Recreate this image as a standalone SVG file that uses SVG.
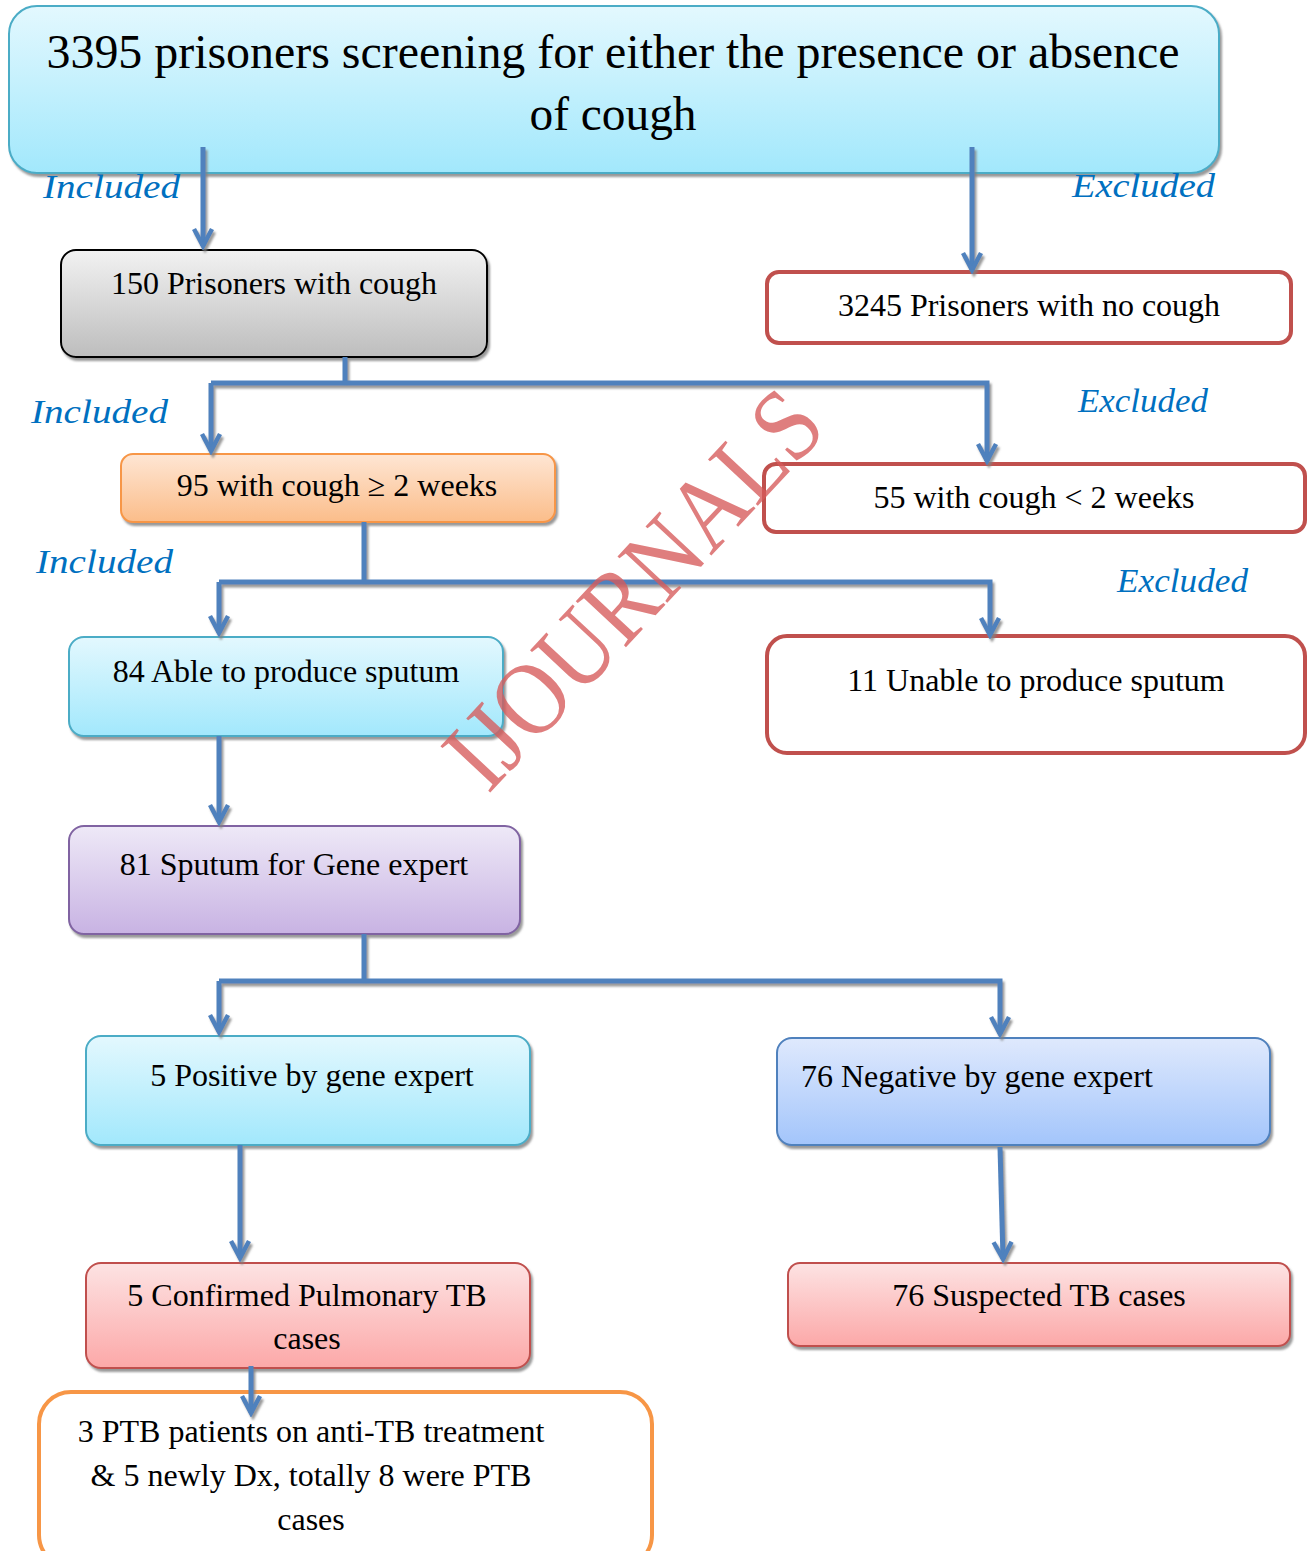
<svg xmlns="http://www.w3.org/2000/svg" width="1309" height="1551" viewBox="0 0 1309 1551">
<defs>
<linearGradient id="gCyan" x1="0" y1="0" x2="0" y2="1"><stop offset="0" stop-color="#e3f8fe"/><stop offset="1" stop-color="#a2e8fc"/></linearGradient>
<linearGradient id="gGray" x1="0" y1="0" x2="0" y2="1"><stop offset="0" stop-color="#f2f2f2"/><stop offset="1" stop-color="#bdbdbd"/></linearGradient>
<linearGradient id="gOrange" x1="0" y1="0" x2="0" y2="1"><stop offset="0" stop-color="#fee6d4"/><stop offset="1" stop-color="#fbbd8a"/></linearGradient>
<linearGradient id="gPurple" x1="0" y1="0" x2="0" y2="1"><stop offset="0" stop-color="#eee9f7"/><stop offset="1" stop-color="#c8b3e3"/></linearGradient>
<linearGradient id="gBlue" x1="0" y1="0" x2="0" y2="1"><stop offset="0" stop-color="#dfe9fd"/><stop offset="1" stop-color="#a3c5fb"/></linearGradient>
<linearGradient id="gRed" x1="0" y1="0" x2="0" y2="1"><stop offset="0" stop-color="#fde3e3"/><stop offset="1" stop-color="#fca8a8"/></linearGradient>
<filter id="sh" x="-5%" y="-5%" width="115%" height="130%"><feDropShadow dx="2" dy="3" stdDeviation="1" flood-color="#808080" flood-opacity="0.8"/></filter>
<marker id="ah" viewBox="0 0 24 24" refX="20" refY="12" markerWidth="24" markerHeight="24" markerUnits="userSpaceOnUse" orient="auto">
<path d="M3,3 L20,12 L3,21" fill="none" stroke="#4f81bd" stroke-width="4.5" stroke-linejoin="miter"/>
</marker>
<style>
.t{font-family:"Liberation Serif","Times New Roman",serif;fill:#000;text-anchor:middle}
.m{font-size:32px}
.lab{font-family:"Liberation Serif","DejaVu Serif",serif;font-style:italic;font-size:34px;fill:#0070c0}
.c{fill:none;stroke:#4f81bd;stroke-width:5}
.rb{fill:#fff;stroke:#c0504d;stroke-width:4}
</style>
</defs>
<rect width="1309" height="1551" fill="#fff"/>

<g id="n-top"><rect x="9" y="6" width="1210" height="167" rx="28" fill="url(#gCyan)" stroke="#4bacc6" stroke-width="2" filter="url(#sh)"/>
<text class="t" x="613" y="68" font-size="48" textLength="1133" lengthAdjust="spacingAndGlyphs">3395 prisoners screening for either the presence or absence</text>
<text class="t" x="613" y="130" font-size="48" textLength="167" lengthAdjust="spacingAndGlyphs">of cough</text></g>

<g id="n-cough"><rect x="61" y="250" width="426" height="107" rx="15" fill="url(#gGray)" stroke="#000" stroke-width="2" filter="url(#sh)"/>
<text class="t m" x="274" y="294">150 Prisoners with cough</text></g>

<g id="n-nocough"><rect class="rb" x="767" y="272" width="524" height="71" rx="12"/>
<text class="t m" x="1029" y="316">3245 Prisoners with no cough</text></g>

<g id="n-95"><rect x="121" y="454" width="434" height="68" rx="12" fill="url(#gOrange)" stroke="#f79646" stroke-width="2" filter="url(#sh)"/>
<text class="t m" x="337" y="496">95 with cough ≥ 2 weeks</text></g>

<g id="n-55"><rect class="rb" x="764" y="464" width="541" height="68" rx="12"/>
<text class="t m" x="1034" y="508">55 with cough &lt; 2 weeks</text></g>

<g id="n-84"><rect x="69" y="637" width="434" height="99" rx="15" fill="url(#gCyan)" stroke="#4bacc6" stroke-width="2" filter="url(#sh)"/>
<text class="t m" x="286" y="682">84 Able to produce sputum</text></g>

<g id="n-11"><rect class="rb" x="767" y="636" width="538" height="117" rx="20"/>
<text class="t m" x="1036" y="691">11 Unable to produce sputum</text></g>

<g id="n-81"><rect x="69" y="826" width="451" height="108" rx="15" fill="url(#gPurple)" stroke="#8064a2" stroke-width="2" filter="url(#sh)"/>
<text class="t m" x="294" y="875">81 Sputum for Gene expert</text></g>

<g id="n-pos"><rect x="86" y="1036" width="444" height="109" rx="15" fill="url(#gCyan)" stroke="#4bacc6" stroke-width="2" filter="url(#sh)"/>
<text class="t m" x="312" y="1086">5 Positive by gene expert</text></g>

<g id="n-neg"><rect x="777" y="1038" width="493" height="107" rx="15" fill="url(#gBlue)" stroke="#4f81bd" stroke-width="2" filter="url(#sh)"/>
<text class="t m" x="801" y="1087" style="text-anchor:start">76 Negative by gene expert</text></g>

<g id="n-confirmed"><rect x="86" y="1263" width="444" height="105" rx="15" fill="url(#gRed)" stroke="#c0504d" stroke-width="2" filter="url(#sh)"/>
<text class="t m" x="307" y="1306">5 Confirmed Pulmonary TB</text>
<text class="t m" x="307" y="1349">cases</text></g>

<g id="n-suspected"><rect x="788" y="1263" width="502" height="83" rx="12" fill="url(#gRed)" stroke="#c0504d" stroke-width="2" filter="url(#sh)"/>
<text class="t m" x="1039" y="1306">76 Suspected TB cases</text></g>

<g id="n-total"><rect x="39" y="1392" width="613" height="175" rx="32" fill="#fff" stroke="#f79646" stroke-width="4"/>
<text class="t m" x="311" y="1442">3 PTB patients on anti-TB treatment</text>
<text class="t m" x="311" y="1486">&amp; 5 newly Dx, totally 8 were PTB</text>
<text class="t m" x="311" y="1530">cases</text></g>

<g id="connectors" filter="url(#sh)">
<path class="c" d="M203,147 V246" marker-end="url(#ah)"/>
<path class="c" d="M972,147 V270" marker-end="url(#ah)"/>
<path class="c" d="M345,357 V383"/>
<path class="c" d="M211,383 H987 V461" marker-end="url(#ah)"/>
<path class="c" d="M211,383 V451" marker-end="url(#ah)"/>
<path class="c" d="M364,522 V582"/>
<path class="c" d="M219,582 H990 V635" marker-end="url(#ah)"/>
<path class="c" d="M219,582 V633" marker-end="url(#ah)"/>
<path class="c" d="M219,736 V822" marker-end="url(#ah)"/>
<path class="c" d="M364,934 V981"/>
<path class="c" d="M219,981 H1000 V1034" marker-end="url(#ah)"/>
<path class="c" d="M219,981 V1032" marker-end="url(#ah)"/>
<path class="c" d="M240,1145 V1258" marker-end="url(#ah)"/>
<path class="c" d="M1000,1147 L1003,1259" marker-end="url(#ah)"/>
<path class="c" d="M251,1366 V1413" marker-end="url(#ah)"/>
</g>

<g id="labels">
<text class="lab" x="43" y="198" textLength="137" lengthAdjust="spacingAndGlyphs">Included</text>
<text class="lab" x="1072" y="197" textLength="143" lengthAdjust="spacingAndGlyphs">Excluded</text>
<text class="lab" x="31" y="423" textLength="137" lengthAdjust="spacingAndGlyphs">Included</text>
<text class="lab" x="1078" y="412" textLength="130" lengthAdjust="spacingAndGlyphs">Excluded</text>
<text class="lab" x="36" y="573" textLength="137" lengthAdjust="spacingAndGlyphs">Included</text>
<text class="lab" x="1117" y="592" textLength="131" lengthAdjust="spacingAndGlyphs">Excluded</text>
</g>

<text id="watermark" x="0" y="0" transform="translate(488,795) rotate(-47)" font-family="Liberation Serif, serif" font-size="104" fill="#d65a5a" fill-opacity="0.78" textLength="500" lengthAdjust="spacingAndGlyphs">IJOURNALS</text>
</svg>
